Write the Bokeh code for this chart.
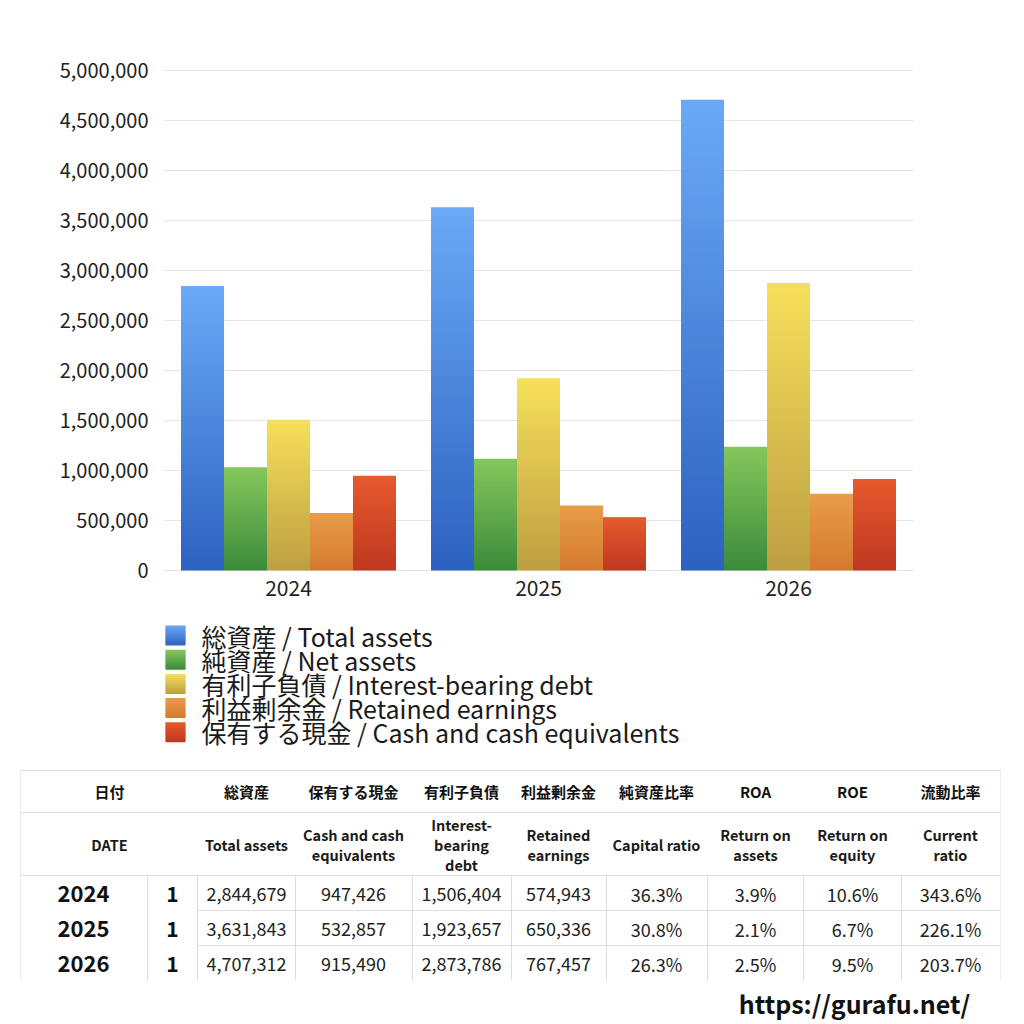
import numpy as np
from bokeh.plotting import figure
from bokeh.models import Range1d
from bokeh.core.properties import value
from bokeh.embed import file_html
from bokeh.resources import INLINE

FONT = "Noto Sans CJK JP"

# ---------------- data ----------------
years = ["2024", "2025", "2026"]
total_assets = [2844679, 3631843, 4707312]
net_assets = [1032600, 1118600, 1238000]
interest_debt = [1506404, 1923657, 2873786]
retained = [574943, 650336, 767457]
cash = [947426, 532857, 915490]
period = ["1", "1", "1"]
capital_ratio = ["36.3%", "30.8%", "26.3%"]
roa = ["3.9%", "2.1%", "2.5%"]
roe = ["10.6%", "6.7%", "9.5%"]
current_ratio = ["343.6%", "226.1%", "203.7%"]

series_values = [total_assets, net_assets, interest_debt, retained, cash]
legend_labels = ["総資産 / Total assets", "純資産 / Net assets",
                 "有利子負債 / Interest-bearing debt", "利益剰余金 / Retained earnings",
                 "保有する現金 /  Cash and cash equivalents"]
top_colors = ["#6AAAF6", "#86C75C", "#F6E05A", "#E99C48", "#E75A2E"]
bottom_colors = ["#2D61C0", "#3B8B3B", "#BC9F42", "#D47A30", "#BE3820"]
y_ticks = [0, 500000, 1000000, 1500000, 2000000, 2500000, 3000000, 3500000, 4000000, 4500000, 5000000]

header_jp = ["日付", "総資産", "保有する現金", "有利子負債", "利益剰余金", "純資産比率", "ROA", "ROE", "流動比率"]
header_en = ["DATE", "Total assets", "Cash and cash\nequivalents", "Interest-\nbearing\ndebt",
             "Retained\nearnings", "Capital ratio", "Return on\nassets", "Return on\nequity", "Current\nratio"]


def hex2rgb(h):
    h = h.lstrip("#")
    return np.array([int(h[i:i + 2], 16) for i in (0, 2, 4)], dtype=float)


def mix(c0, c1, t):
    a, b = hex2rgb(c0), hex2rgb(c1)
    c = a + (b - a) * t
    return "#%02x%02x%02x" % tuple(int(round(v)) for v in c)


W = H = 1024
# One canvas; default ranges are page pixels (y downward).
p = figure(x_range=Range1d(0, W), y_range=Range1d(H, 0),
           width=W, height=H, output_backend="svg", toolbar_location=None,
           min_border=0, x_axis_location=None, y_axis_location=None)
p.outline_line_color = None
p.grid.visible = False
p.background_fill_color = "white"
p.border_fill_color = "white"

# chart scales: value axis (0 -> y 570, 5M -> y 70) and category axis (250 px per year, from x 163)
PLOT_L, PLOT_R, PLOT_B, PLOT_T = 163, 913, 570, 70
vmax = 5000000
ppv = (PLOT_B - PLOT_T) / vmax
p.extra_y_ranges = {"val": Range1d(-(H - PLOT_B) / ppv, PLOT_B / ppv)}
cw = (PLOT_R - PLOT_L) / len(years)
p.extra_x_ranges = {"cat": Range1d(-PLOT_L / cw, len(years) + (W - PLOT_R) / cw)}

# gridlines
p.segment(x0=[PLOT_L] * len(y_ticks), x1=[PLOT_R] * len(y_ticks), y0=y_ticks, y1=y_ticks,
          y_range_name="val", line_color="#e6e6e6", line_width=1)
# y tick labels
p.text(x=[148] * len(y_ticks), y=y_ticks, text=[f"{t:,}" for t in y_ticks],
       y_range_name="val", text_align="right", text_baseline="middle",
       text_font=value(FONT), text_font_size="20px", text_color="#222222")
# x tick labels
p.text(x=[i + 0.5 for i in range(len(years))], y=[587] * len(years), text=years,
       x_range_name="cat", text_align="center", text_baseline="middle",
       text_font=value(FONT), text_font_size="21px", text_color="#222222")

# gradient bars
N = 40
w = 0.172
for si, vals in enumerate(series_values):
    lefts, rights, bots, tops, cols = [], [], [], [], []
    for yi, v in enumerate(vals):
        xc = yi + 0.5 + (si - 2) * w
        for k in range(N):
            lefts.append(xc - w / 2)
            rights.append(xc + w / 2)
            bots.append(v * k / N)
            tops.append(min(v, v * (k + 1.7) / N))
            cols.append(mix(bottom_colors[si], top_colors[si], (k + 0.5) / N))
    p.quad(left=lefts, right=rights, bottom=bots, top=tops, x_range_name="cat", y_range_name="val",
           fill_color=cols, line_color=None)

# legend
leg_y = [635 + 24.2 * i for i in range(len(legend_labels))]
M = 10
lx0, lx1, ly0, ly1, lc = [], [], [], [], []
for i, yc in enumerate(leg_y):
    for k in range(M):
        lx0.append(165); lx1.append(185)
        ly0.append(yc + 10 - 20 * k / M)
        ly1.append(max(yc - 10, yc + 10 - 20 * (k + 1.6) / M))
        lc.append(mix(bottom_colors[i], top_colors[i], (k + 0.5) / M))
p.quad(left=lx0, right=lx1, bottom=ly0, top=ly1, fill_color=lc, line_color=None)
p.text(x=[201] * len(legend_labels), y=leg_y, text=legend_labels, text_align="left",
       text_baseline="middle", text_font=value(FONT), text_font_size="25px", text_color="#1a1a1a")

# table grid
line_col = "#dedede"
sx0 = [20, 20, 20, 197, 197]
sx1 = [1000, 1000, 1000, 1000, 1000]
sy = [770, 812, 875, 910, 945]
p.segment(x0=sx0, y0=sy, x1=sx1, y1=sy, line_color=line_col, line_width=1)
vx = [147, 197, 295, 412, 511, 606, 707, 803, 901]
p.segment(x0=vx, y0=[875] * len(vx), x1=vx, y1=[980] * len(vx), line_color=line_col, line_width=1)
p.segment(x0=[20, 1000], y0=[770, 770], x1=[20, 1000], y1=[980, 980], line_color="#ececec", line_width=1)

col_centers = [109, 246, 353, 461, 558, 656, 755, 852, 950]
p.text(x=col_centers, y=[791] * 9, text=header_jp, text_align="center", text_baseline="middle",
       text_font=value(FONT), text_font_size="15px", text_font_style="bold", text_color="#111111")

hx, hy, ht = [], [], []
for cx, lab in zip(col_centers, header_en):
    lines = lab.split("\n")
    n = len(lines)
    for j, ln in enumerate(lines):
        hx.append(cx)
        hy.append(844 + (j - (n - 1) / 2) * 20)
        ht.append(ln)
p.text(x=hx, y=hy, text=ht, text_align="center", text_baseline="middle",
       text_font=value(FONT), text_font_size="14.5px", text_font_style="bold", text_color="#1a1a1a")

row_y = [893, 928, 963]
p.text(x=[83] * 3, y=row_y, text=years, text_align="center", text_baseline="middle",
       text_font=value(FONT), text_font_size="22px", text_font_style="bold", text_color="#111111")
p.text(x=[172] * 3, y=row_y, text=period, text_align="center", text_baseline="middle",
       text_font=value(FONT), text_font_size="21px", text_font_style="bold", text_color="#111111")

cols_data = [[f"{v:,}" for v in total_assets], [f"{v:,}" for v in cash],
             [f"{v:,}" for v in interest_debt], [f"{v:,}" for v in retained],
             capital_ratio, roa, roe, current_ratio]
tx, ty, tt = [], [], []
for ci, colvals in enumerate(cols_data):
    for ri, s in enumerate(colvals):
        tx.append(col_centers[ci + 1]); ty.append(row_y[ri]); tt.append(s)
p.text(x=tx, y=ty, text=tt, text_align="center", text_baseline="middle",
       text_font=value(FONT), text_font_size="18px", text_color="#222222")

p.text(x=[854], y=[1002], text=["https://gurafu.net/"], text_align="center", text_baseline="middle",
       text_font=value(FONT), text_font_size="25px", text_font_style="bold", text_color="#111111")

open("out.html", "w").write(file_html(p, INLINE))
